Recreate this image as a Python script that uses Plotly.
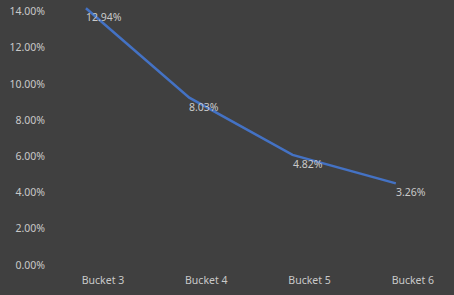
import plotly.graph_objects as go

categories = ["Bucket 3", "Bucket 4", "Bucket 5", "Bucket 6"]
line_values = [0.1418, 0.0924, 0.0608, 0.0451]
label_texts = ["12.94%", "8.03%", "4.82%", "3.26%"]
y_ticks = [0, 0.02, 0.04, 0.06, 0.08, 0.10, 0.12, 0.14]

bg = "#404040"
txt = "#c9c9c9"
font = dict(family="Noto Sans, Open Sans, sans-serif", size=10.5, color=txt)

fig = go.Figure()
fig.add_trace(go.Scatter(
    x=categories, y=line_values, mode="lines",
    line=dict(color="#4472C4", width=2.5),
    hoverinfo="skip", showlegend=False,
))
for c, v, t in zip(categories, line_values, label_texts):
    fig.add_annotation(x=c, y=v, text=t, showarrow=False,
                       xanchor="left", yanchor="top", yshift=0, xshift=-2,
                       font=font)

fig.update_layout(
    width=454, height=295,
    margin=dict(l=50, r=0, t=7, b=30),
    paper_bgcolor=bg, plot_bgcolor=bg,
    font=font,
    showlegend=False,
    xaxis=dict(type="category", range=[-0.348, 3.563], showgrid=False,
               zeroline=False, showline=False, ticks="", ticklabelshift=17,
               ticklabelstandoff=7, tickfont=font),
    yaxis=dict(range=[0, 0.1425], tickvals=y_ticks, tickformat=".2%",
               showgrid=False, zeroline=False, showline=False, ticks="",
               ticklabelstandoff=4, tickfont=font),
)
fig.write_html("out.html")
